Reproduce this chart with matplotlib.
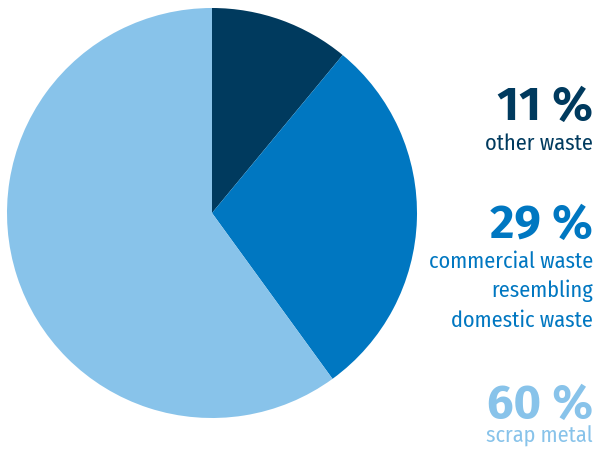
import matplotlib.pyplot as plt
from matplotlib import font_manager

# data
shares = [11, 29, 60]
values_text = ['11 %', '29 %', '60 %']
labels = [['other waste'],
          ['commercial waste', 'resembling', 'domestic waste'],
          ['scrap metal']]
colors = ['#003a5e', '#0077c1', '#88c3ea']


def pick(cands):
    names = {f.name for f in font_manager.fontManager.ttflist}
    for c in cands:
        if c in names:
            return [c, 'DejaVu Sans']
    return ['DejaVu Sans']


# reference uses a Frutiger-like condensed face
label_font = pick(['Fira Sans Condensed', 'Asap Condensed', 'Liberation Sans Narrow'])
number_font = pick(['Fira Sans', 'Fira Sans Condensed', 'Liberation Sans'])
plt.rcParams['font.family'] = label_font

W, H = 595, 455
fig = plt.figure(figsize=(W / 100, H / 100), dpi=100)

# pie centred at (212, 213) px, radius 205 px
cx, cy, r = 212, 213, 205
ax = fig.add_axes([(cx - r) / W, (H - cy - r) / H, 2 * r / W, 2 * r / H])
ax.pie(shares, colors=colors, startangle=90, counterclock=False,
       radius=1.0, wedgeprops=dict(linewidth=0))
ax.set_xlim(-1, 1)
ax.set_ylim(-1, 1)
ax.set_aspect('equal')
ax.axis('off')

# text block on the right, baselines in px from top
value_base = [120, 238, 418]
label_base = [150, 268, 443]
line_gap = 29.5
x_right = 593 / W

for i in range(len(shares)):
    fig.text(x_right, 1 - value_base[i] / H, values_text[i], ha='right',
             va='baseline', fontsize=34, fontweight='bold', color=colors[i],
             family=number_font)
    for j, line in enumerate(labels[i]):
        fig.text(x_right, 1 - (label_base[i] + j * line_gap) / H, line,
                 ha='right', va='baseline', fontsize=16, color=colors[i])

fig.savefig('out.png', dpi=100)
